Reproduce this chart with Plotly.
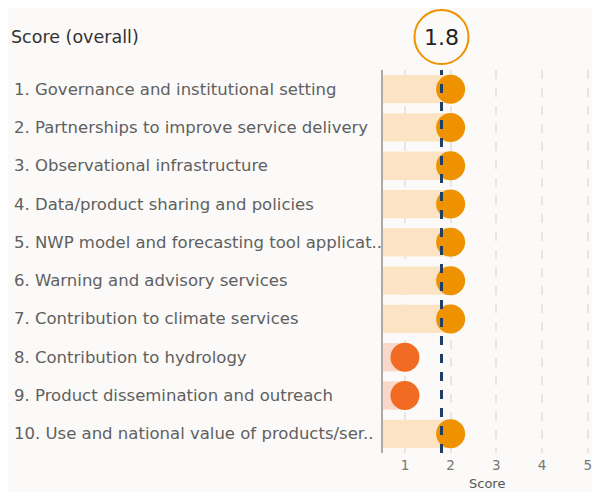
import plotly.graph_objects as go

labels = [
    "1. Governance and institutional setting",
    "2. Partnerships to improve service delivery",
    "3. Observational infrastructure",
    "4. Data/product sharing and policies",
    "5. NWP model and forecasting tool applicat..",
    "6. Warning and advisory services",
    "7. Contribution to climate services",
    "8. Contribution to hydrology",
    "9. Product dissemination and outreach",
    "10. Use and national value of products/ser..",
]
scores = [2, 2, 2, 2, 2, 2, 2, 1, 1, 2]
overall = 1.8

dot_col = {2: "#EE9200", 1: "#F26B22"}
bar_col = {2: "#FCE3C4", 1: "#F9D8C9"}
base = 0.52

fig = go.Figure()
fig.add_trace(go.Bar(
    y=labels, x=[s - base for s in scores], base=base, orientation="h",
    marker=dict(color=[bar_col[s] for s in scores], line_width=0),
    width=0.74, hoverinfo="skip",
))
fig.add_trace(go.Scatter(
    y=labels, x=scores, mode="markers",
    marker=dict(size=29, color=[dot_col[s] for s in scores], line_width=0),
))

# dashed line for overall score
fig.add_shape(type="line", x0=overall, x1=overall, xref="x", y0=0, y1=1, yref="paper",
              line=dict(color="#1F3F66", width=3, dash="dash"), layer="above")
# circle around overall score
fig.add_shape(type="circle", xref="x", yref="paper", xsizemode="pixel", ysizemode="pixel",
              xanchor=overall, yanchor=1, x0=-27, x1=27, y0=6, y1=60,
              line=dict(color="#EE9200", width=2), fillcolor="rgba(0,0,0,0)")
fig.add_annotation(x=overall, xref="x", y=1, yref="paper", yanchor="middle", yshift=33,
                   text="1.8", showarrow=False, font=dict(size=22, color="#222"))

fig.add_annotation(x=0, xref="paper", xanchor="left", xshift=-374, y=1, yref="paper",
                   yanchor="middle", yshift=33, text="Score (overall)", showarrow=False,
                   font=dict(size=17.5, color="#333"))
fig.add_annotation(x=0.5, xref="paper", y=0, yref="paper", yanchor="bottom", yshift=-40,
                   text="Score", showarrow=False, font=dict(size=13, color="#555"))

for lab in labels:
    fig.add_annotation(x=0, xref="paper", xanchor="left", xshift=-371, y=lab, yref="y",
                       text=lab, showarrow=False, font=dict(size=16.5, color="#606060"))

fig.update_layout(
    width=584, height=484,
    margin=dict(l=375, r=0, t=62, b=39),
    paper_bgcolor="#FBFAF8", plot_bgcolor="#FBFAF8",
    showlegend=False,
    font=dict(family="DejaVu Sans", color="#666"),
    xaxis=dict(range=[0.52, 5.05], tickvals=[1, 2, 3, 4, 5], showgrid=True,
               gridcolor="#e6e6e6", griddash="dash", gridwidth=1.5, zeroline=False,
               ticklabeloverflow="allow", ticklabelstandoff=2,
               tickfont=dict(size=13.5, color="#777")),
    yaxis=dict(range=[9.5, -0.5], showticklabels=False, showgrid=False, zeroline=False,
               showline=True, linecolor="#aaaaaa", linewidth=1.5),
    bargap=0.26,
)

fig.write_html("out.html")
